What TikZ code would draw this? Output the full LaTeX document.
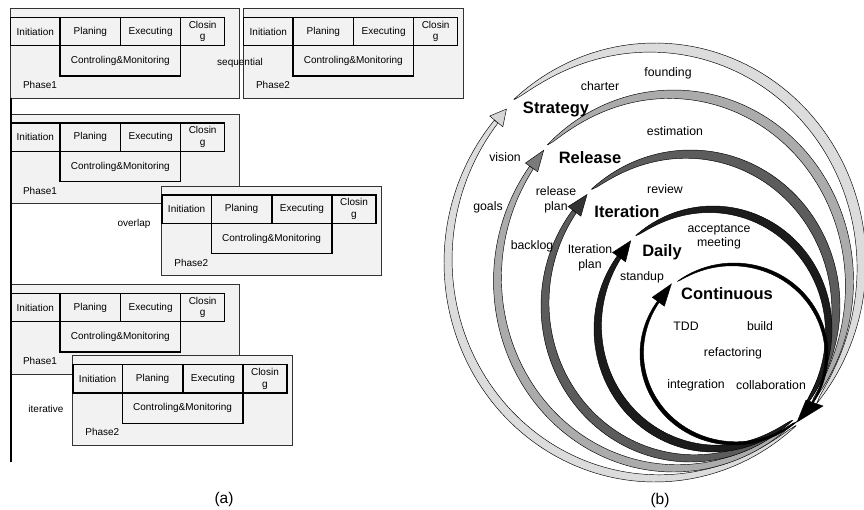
\documentclass[tikz,border=0pt]{standalone}
\usepackage{fontspec}
\setmainfont{Liberation Sans}
\definecolor{boxgrey}{HTML}{F2F2F2}
\definecolor{cstrat}{HTML}{DCDCDC}
\definecolor{cstrath}{HTML}{D6D6D6}
\definecolor{crel}{HTML}{ABABAB}
\definecolor{crelh}{HTML}{7A7A7A}
\definecolor{citer}{HTML}{5C5C5C}
\definecolor{citerh}{HTML}{333333}
\definecolor{cdaily}{HTML}{1C1C1C}
\tikzset{
  phasebg/.style={fill=boxgrey, draw=black!80, line width=0.6pt},
  stagebox/.style={draw=black, fill=boxgrey, line width=1.3pt, inner sep=0pt,
    minimum height=28.4pt, align=center, font=\fontsize{10}{11.5}\selectfont},
  lbl/.style={font=\fontsize{10}{11.5}\selectfont, inner sep=0pt},
  rlbl/.style={font=\fontsize{12.3}{14.5}\selectfont, inner sep=0pt, align=center},
  blbl/.style={font=\bfseries\fontsize{16.5}{18}\selectfont, inner sep=0pt},
  caplbl/.style={font=\fontsize{15.5}{17}\selectfont, inner sep=0pt},
  ringline/.style={draw=black, line width=0.45pt, line join=round},
}
\newcommand{\phaseblock}[5]{%
  \draw[phasebg] (#2,#3) rectangle ++(#4,89.5);
  \node[stagebox, minimum width=49.3pt, anchor=north west] (#1ini) at (#2,#3+8.3) {Initiation};
  \node[stagebox, minimum width=60.7pt, anchor=north west] (#1pla) at (#2+49.3,#3+8.3) {Planing};
  \node[stagebox, minimum width=60pt, anchor=north west] (#1exe) at (#2+110,#3+8.3) {Executing};
  \node[stagebox, minimum width=44pt, anchor=north west] (#1clo) at (#2+170,#3+8.3) {Closin\\g};
  \node[stagebox, minimum width=120.7pt, minimum height=30.3pt, anchor=north west] (#1cm) at (#2+49.3,#3+36.7) {Controling\&Monitoring};
  \node[lbl] (#1lab) at (#2+30,#3+76.5) {#5};
}
% #1 tS, #2 tB, #3 Wup, #4 Wlow, #5 band colour, #6 head colour, #7 head length, #8 head half width
\newcommand{\ringparts}[8]{%
  \filldraw[ringline, fill=#5]
    plot[domain=0:1, samples=90] ({\rcx+(\ra)*cos((#1)+\x*(-40-(#1)))},{\rcy-(\rb)*sin((#1)+\x*(-40-(#1)))})
    -- plot[domain=0:1, samples=90] ({\rcx+(\ra-(#3)*sqrt(abs(sin(180*\x))))*cos(-40+\x*((#1)+40))},{\rcy-(\rb-(#3)*sqrt(abs(sin(180*\x))))*sin(-40+\x*((#1)+40))})
    -- cycle;
  \filldraw[ringline, fill=#5]
    plot[domain=0:1, samples=90] ({\rcx+(\ra)*cos(-48+\x*((#2)-360+48))},{\rcy-(\rb)*sin(-48+\x*((#2)-360+48))})
    -- plot[domain=0:1, samples=90] ({\rcx+(\ra-(#4)*sqrt(abs(sin(165*(1-\x)))))*cos((#2)-360+\x*(-48-(#2)+360))},{\rcy-(\rb-(#4)*sqrt(abs(sin(165*(1-\x)))))*sin((#2)-360+\x*(-48-(#2)+360))})
    -- cycle;
  \pgfmathsetmacro{\hbx}{\rcx+(\ra-0.25*(#4))*cos(#2)}
  \pgfmathsetmacro{\hby}{\rcy-(\rb-0.25*(#4))*sin(#2)}
  \pgfmathsetmacro{\hdx}{(\ra)/100*sin(#2)}
  \pgfmathsetmacro{\hdy}{(\rb)/100*cos(#2)}
  \pgfmathsetmacro{\hdn}{sqrt(\hdx*\hdx+\hdy*\hdy)}
  \pgfmathsetmacro{\hux}{\hdx/\hdn}
  \pgfmathsetmacro{\huy}{\hdy/\hdn}
  \filldraw[ringline, fill=#6, line join=miter]
    ({\hbx+(#7)*\hux},{\hby+(#7)*\huy}) -- ({\hbx-(#8)*\huy},{\hby+(#8)*\hux})
    -- ({\hbx+(#8)*\huy},{\hby-(#8)*\hux}) -- cycle;
}
\begin{document}
\begin{tikzpicture}[x=1pt,y=-1pt]
\useasboundingbox (0,0) rectangle (864,509);
\fill[white] (0,0) rectangle (864,509);

% ---------- panel (a) ----------
\phaseblock{sa}{10}{8.3}{229}{Phase1}
\phaseblock{sb}{243}{8.3}{220}{Phase2}
\phaseblock{oa}{10}{114}{229}{Phase1}
\phaseblock{ob}{161.3}{186}{220}{Phase2}
\phaseblock{ia}{10}{284.3}{229}{Phase1}
\phaseblock{ib}{72.3}{355.7}{220}{Phase2}
\coordinate (axtop) at (11,97.5);
\coordinate (axbot) at (11,462);
\draw[line width=2.4pt] (axtop) -- (axbot);
\node[lbl] (seq) at (240,63) {sequential};
\node[lbl] (ovl) at (134,224) {overlap};
\node[lbl] (itv) at (46,409) {iterative};
\node[caplbl] (capa) at (224,499) {(a)};

% ---------- panel (b) ----------
\def\rcx{655}\def\rcy{262.5}\def\ra{211}\def\rb{219.5}
\ringparts{132}{139.5}{11}{9}{cstrat}{cstrath}{16}{8.5}
\def\rcx{673.5}\def\rcy{281}\def\ra{180}\def\rb{191}
\ringparts{134.5}{143}{10}{9}{crel}{crelh}{21}{7.5}
\def\rcx{690.5}\def\rcy{306}\def\ra{149.5}\def\rb{156}
\ringparts{131.5}{142}{10}{9}{citer}{citerh}{21}{8}
\def\rcx{713}\def\rcy{329}\def\ra{119}\def\rb{123}
\ringparts{130.5}{143.5}{8}{8.5}{cdaily}{black}{20}{8}
\def\rcx{734}\def\rcy{354}\def\ra{94}\def\rb{91}
\ringparts{127}{144.5}{3.5}{4}{black}{black}{22}{7.5}
\filldraw[black] (797,422) -- (806,400) -- (823,406) -- cycle;

\node[rlbl] (founding) at (668,73) {founding};
\node[rlbl] (charter) at (600,86) {charter};
\node[blbl] (strategy) at (556,109) {Strategy};
\node[rlbl] (estimation) at (675,131) {estimation};
\node[rlbl] (vision) at (505,157) {vision};
\node[blbl] (release) at (590,158) {Release};
\node[rlbl] (review) at (665,189) {review};
\node[rlbl] (relplan) at (556,200) {release\\plan};
\node[rlbl] (goals) at (488,207) {goals};
\node[blbl] (iteration) at (627,212) {Iteration};
\node[rlbl] (accept) at (719,237) {acceptance\\meeting};
\node[rlbl] (backlog) at (532,246) {backlog};
\node[rlbl] (itplan) at (590,258) {Iteration\\plan};
\node[blbl] (daily) at (662,252) {Daily};
\node[rlbl] (standup) at (642,277) {standup};
\node[blbl] (continuous) at (727,294) {Continuous};
\node[rlbl] (tdd) at (686,326) {TDD};
\node[rlbl] (build) at (760,326) {build};
\node[rlbl] (refact) at (733,353) {refactoring};
\node[rlbl] (integ) at (696,385) {integration};
\node[rlbl] (collab) at (771,385) {collaboration};
\node[caplbl] (capb) at (660,500) {(b)};
\end{tikzpicture}
\end{document}
